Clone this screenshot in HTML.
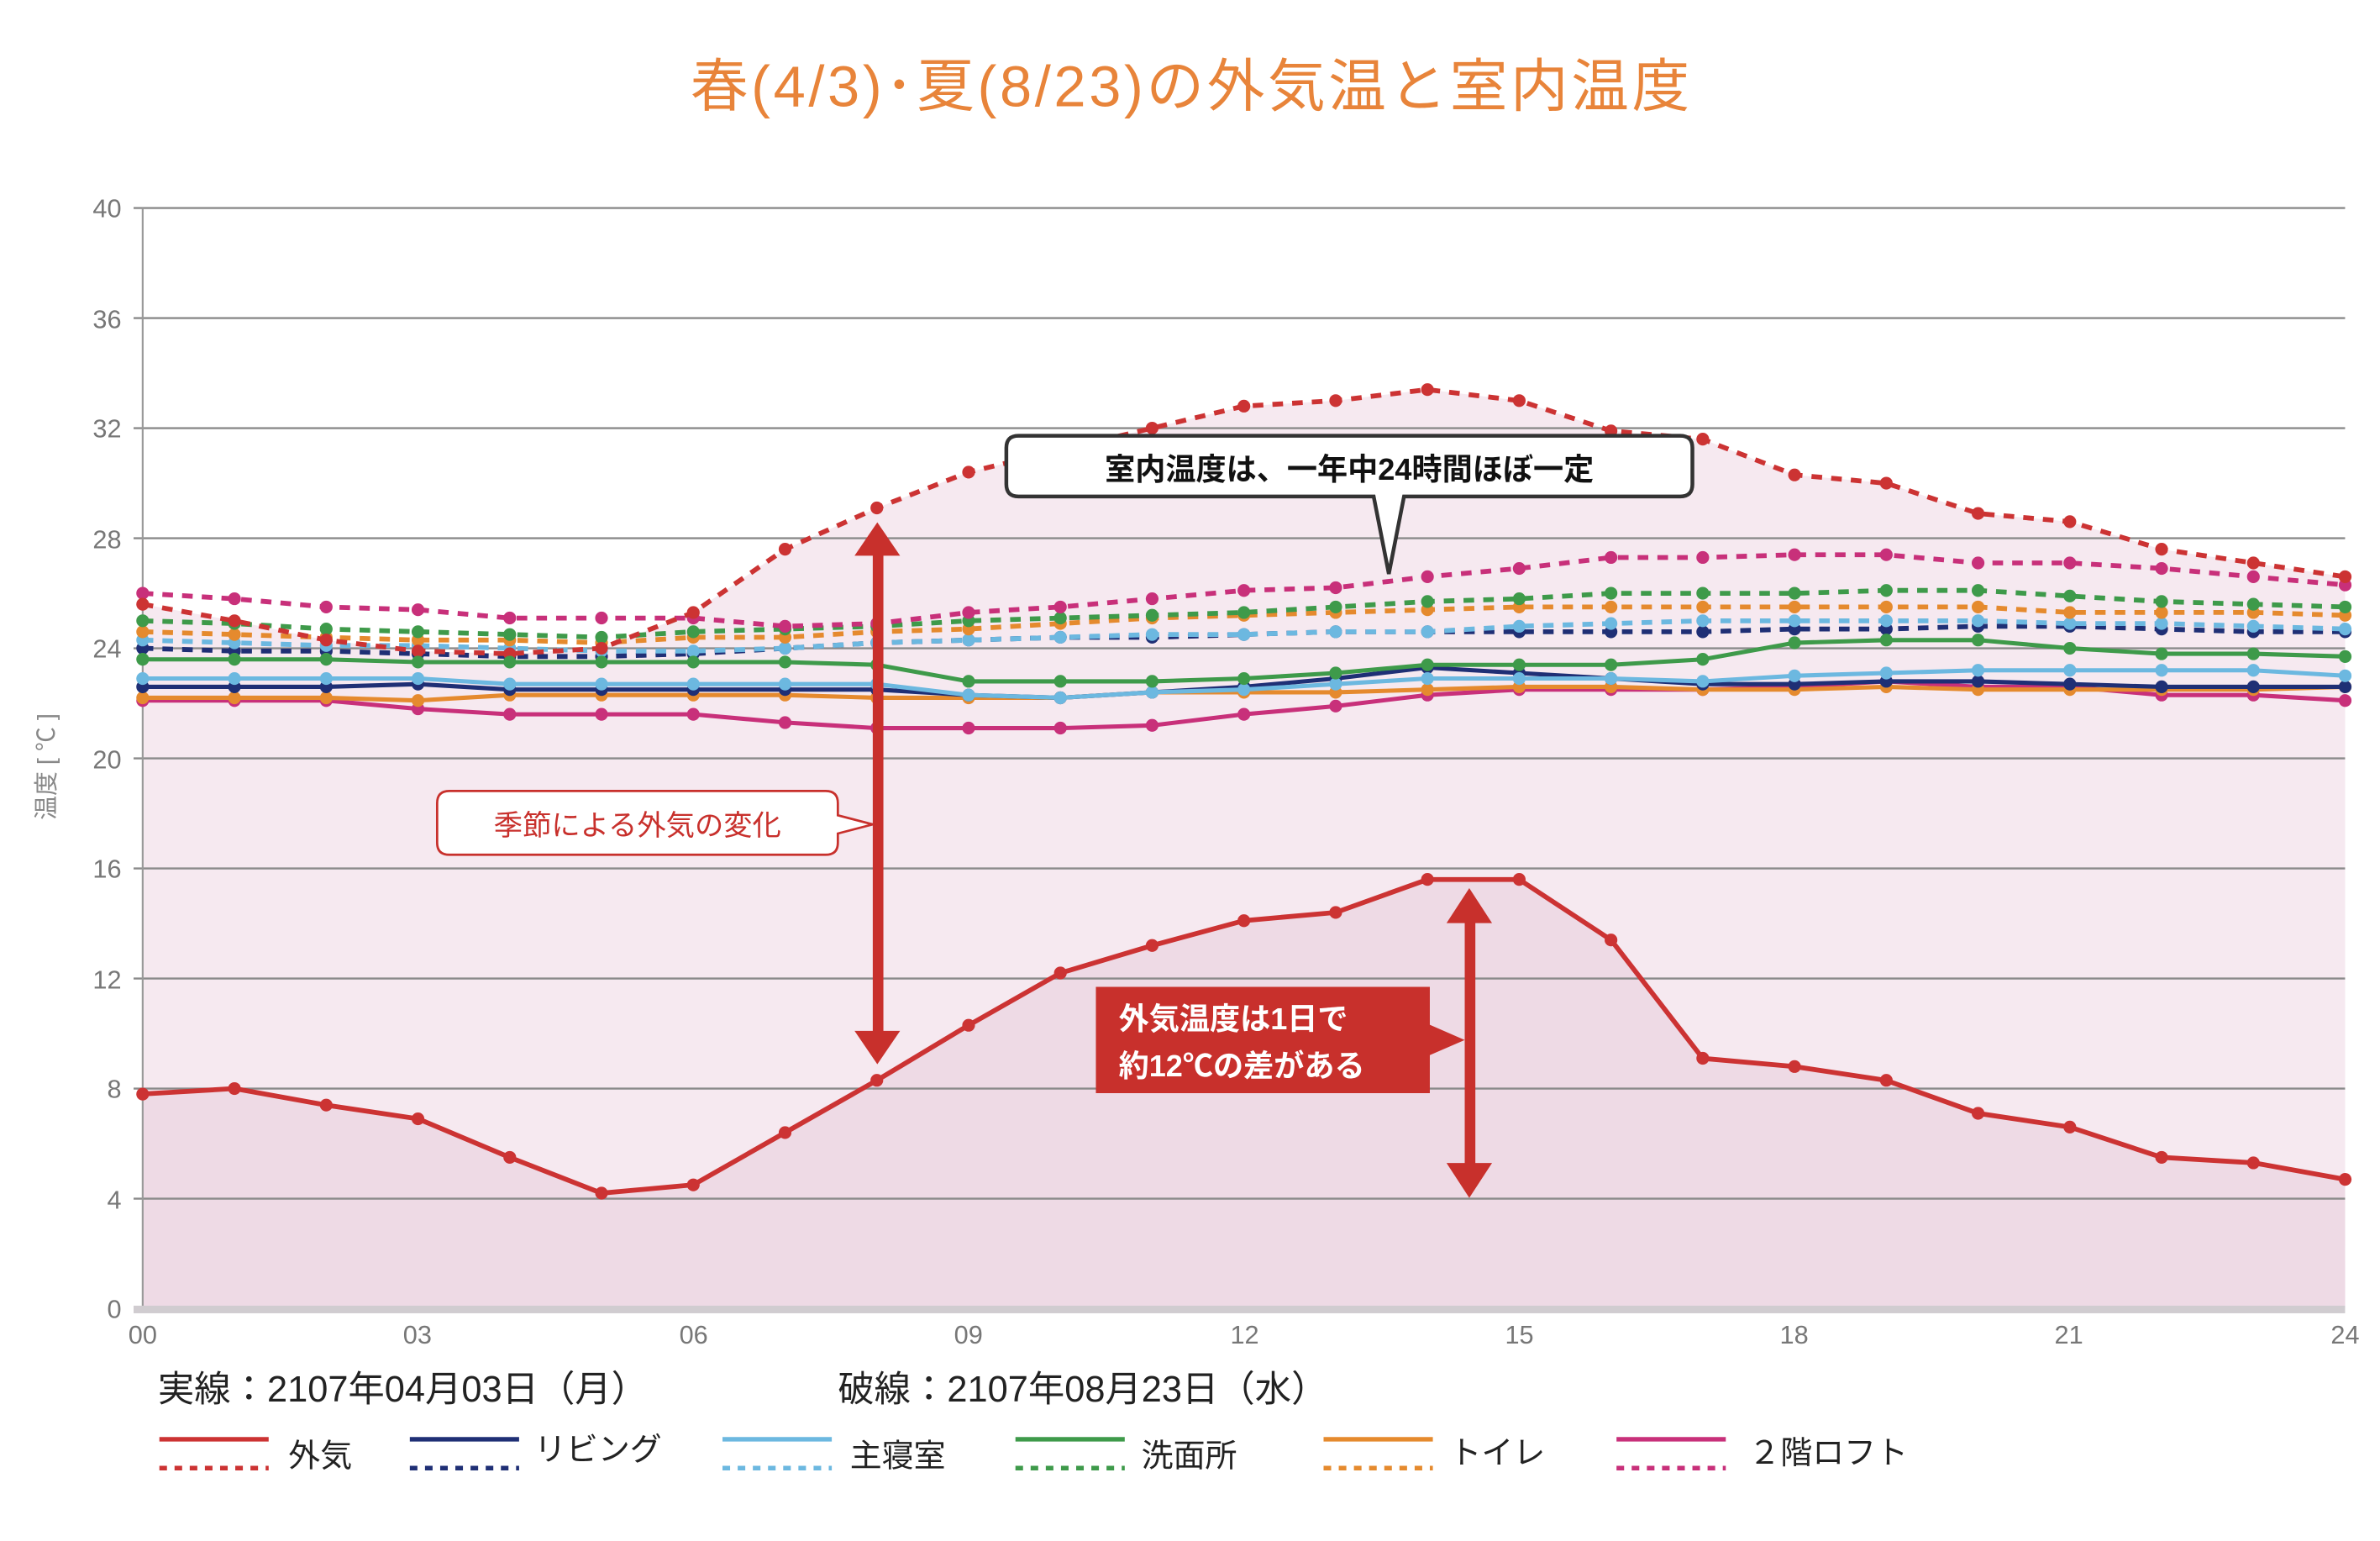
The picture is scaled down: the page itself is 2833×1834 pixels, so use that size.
<!DOCTYPE html>
<html><head><meta charset="utf-8">
<style>
html,body{margin:0;padding:0;background:#fff;}
svg{display:block;}
text{font-family:"Liberation Sans","Noto Sans CJK JP",sans-serif;}
.ax{font-family:"Liberation Serif","Noto Serif CJK SC",serif;fill:#777;font-size:17px;}
</style></head>
<body>
<svg id="c" width="2833" height="1834" viewBox="0 0 1568 1015" preserveAspectRatio="none" xmlns="http://www.w3.org/2000/svg">
<text x="785" y="70" text-anchor="middle" font-size="38" fill="#e8843a" letter-spacing="2">春(4/3)･夏(8/23)の外気温と室内温度</text>
<g id="fills"></g>
<g id="grid"></g>
<line x1="94" y1="137" x2="94" y2="862" stroke="#999" stroke-width="1.2"/>
<rect x="88" y="860" width="1457" height="5" fill="#d0ccd0"/>
<g id="series"></g>
<g class="ax" text-anchor="end">
<text x="80" y="143">40</text><text x="80" y="216">36</text><text x="80" y="288">32</text><text x="80" y="361">28</text><text x="80" y="433">24</text><text x="80" y="506">20</text><text x="80" y="578">16</text><text x="80" y="651">12</text><text x="80" y="723">8</text><text x="80" y="796">4</text><text x="80" y="868">0</text>
</g>
<g class="ax" text-anchor="middle">
<text x="94" y="885">00</text><text x="275" y="885">03</text><text x="457" y="885">06</text><text x="638" y="885">09</text><text x="820" y="885">12</text><text x="1001" y="885">15</text><text x="1182" y="885">18</text><text x="1363" y="885">21</text><text x="1545" y="885">24</text>
</g>
<text x="0" y="0" transform="translate(36,505) rotate(-90)" text-anchor="middle" font-size="16" fill="#888">温度 [ ℃ ]</text>
<g fill="#c8302c" stroke="none">
<rect x="575" y="362" width="7" height="322"/>
<polygon points="578,344 563,366 593,366"/><polygon points="578,701 563,679 593,679"/>
<rect x="965" y="604" width="7" height="166"/>
<polygon points="968,585 953,608 983,608"/><polygon points="968,789 953,766 983,766"/>
</g>
<path d="M671,287 H1107 Q1115,287 1115,295 V319 Q1115,327 1107,327 H925 L915,378 L905,327 H671 Q663,327 663,319 V295 Q663,287 671,287 Z" fill="#fff" stroke="#333" stroke-width="2.5"/>
<text x="889" y="316" text-anchor="middle" font-size="20" font-weight="bold" fill="#111">室内温度は、一年中24時間ほぼ一定</text>
<path d="M296,521 H544 Q552,521 552,529 V537 L575,543 L552,549 V555 Q552,563 544,563 H296 Q288,563 288,555 V529 Q288,521 296,521 Z" fill="#fff" stroke="#c8302c" stroke-width="1.5"/>
<text x="420" y="550" text-anchor="middle" font-size="19" fill="#c8302c">季節による外気の変化</text>
<path d="M722,650 H942 V675 L965,685 L942,695 V720 H722 Z" fill="#c8302c"/>
<text x="737" y="678" font-size="20" font-weight="bold" fill="#fff">外気温度は1日で</text>
<text x="737" y="709" font-size="20" font-weight="bold" fill="#fff">約12℃の差がある</text>
<text x="104" y="923" font-size="24" fill="#222">実線：2107年04月03日（月）</text>
<text x="552" y="923" font-size="24" fill="#222">破線：2107年08月23日（水）</text>
<g id="leg"></g>
<g font-size="21" fill="#222">
<text x="190" y="966">外気</text><text x="352" y="962">リビング</text><text x="560" y="966">主寝室</text><text x="752" y="966">洗面所</text><text x="955" y="964">トイレ</text><text x="1152" y="964">２階ロフト</text>
</g>
</svg>
<script>
const X=h=>94+h*60.46, Y=v=>862-v*18.125;
const d={
od:[25.6,25.0,24.3,23.9,23.8,24.0,25.3,27.6,29.1,30.4,31.2,32.0,32.8,33.0,33.4,33.0,31.9,31.6,30.3,30.0,28.9,28.6,27.6,27.1,26.6],
o:[7.8,8.0,7.4,6.9,5.5,4.2,4.5,6.4,8.3,10.3,12.2,13.2,14.1,14.4,15.6,15.6,13.4,9.1,8.8,8.3,7.1,6.6,5.5,5.3,4.7],
ld:[26.0,25.8,25.5,25.4,25.1,25.1,25.1,24.8,24.9,25.3,25.5,25.8,26.1,26.2,26.6,26.9,27.3,27.3,27.4,27.4,27.1,27.1,26.9,26.6,26.3],
gd:[25.0,24.9,24.7,24.6,24.5,24.4,24.6,24.7,24.8,25.0,25.1,25.2,25.3,25.5,25.7,25.8,26.0,26.0,26.0,26.1,26.1,25.9,25.7,25.6,25.5],
td:[24.6,24.5,24.4,24.3,24.3,24.2,24.4,24.4,24.6,24.7,24.9,25.1,25.2,25.3,25.4,25.5,25.5,25.5,25.5,25.5,25.5,25.3,25.3,25.3,25.2],
bd:[24.3,24.2,24.1,24.1,24.0,23.9,23.9,24.0,24.2,24.3,24.4,24.5,24.5,24.6,24.6,24.8,24.9,25.0,25.0,25.0,25.0,24.9,24.9,24.8,24.7],
nd:[24.0,23.9,23.9,23.8,23.7,23.7,23.8,24.0,24.2,24.3,24.4,24.4,24.5,24.6,24.6,24.6,24.6,24.6,24.7,24.7,24.8,24.8,24.7,24.6,24.6],
g:[23.6,23.6,23.6,23.5,23.5,23.5,23.5,23.5,23.4,22.8,22.8,22.8,22.9,23.1,23.4,23.4,23.4,23.6,24.2,24.3,24.3,24.0,23.8,23.8,23.7],
b:[22.9,22.9,22.9,22.9,22.7,22.7,22.7,22.7,22.7,22.3,22.2,22.4,22.5,22.7,22.9,22.9,22.9,22.8,23.0,23.1,23.2,23.2,23.2,23.2,23.0],
n:[22.6,22.6,22.6,22.7,22.5,22.5,22.5,22.5,22.5,22.3,22.2,22.4,22.6,22.9,23.3,23.1,22.9,22.7,22.7,22.8,22.8,22.7,22.6,22.6,22.6],
t:[22.2,22.2,22.2,22.1,22.3,22.3,22.3,22.3,22.2,22.2,22.2,22.4,22.4,22.4,22.5,22.6,22.6,22.5,22.5,22.6,22.5,22.5,22.5,22.5,22.6],
l:[22.1,22.1,22.1,21.8,21.6,21.6,21.6,21.3,21.1,21.1,21.1,21.2,21.6,21.9,22.3,22.5,22.5,22.5,22.6,22.8,22.6,22.6,22.3,22.3,22.1]};
const col={o:"#cc3333",n:"#1f2f75",b:"#6cb8e0",g:"#3e9a4a",t:"#e58a2e",l:"#c8307a"};
const pts=a=>a.map((v,i)=>X(i).toFixed(1)+","+Y(v).toFixed(1)).join(" ");
let s="";
s+=`<polygon points="${X(0)},862 ${pts(d.od)} ${X(24)},862" fill="#f6e9f0"/>`;
s+=`<polygon points="${X(0)},862 ${pts(d.o)} ${X(24)},862" fill="#eedae5"/>`;
document.getElementById("fills").innerHTML=s;
let g="";
for(let v=4;v<=40;v+=4)g+=`<line x1="88" x2="1545" y1="${Y(v)}" y2="${Y(v)}" stroke="#8a8a8a" stroke-width="1.3"/>`;
document.getElementById("grid").innerHTML=g;
let r="";
const draw=(k,c,dash,w)=>{r+=`<polyline points="${pts(d[k])}" fill="none" stroke="${c}" stroke-width="${w}" ${dash?'stroke-dasharray="7,6"':''}/>`;
d[k].forEach((v,i)=>r+=`<circle cx="${X(i)}" cy="${Y(v)}" r="4.2" fill="${c}"/>`);};
[["nd","n"],["bd","b"],["td","t"],["gd","g"],["ld","l"],["od","o"]].forEach(([k,c])=>draw(k,col[c],1,3.2));
[["l","l"],["t","t"],["n","n"],["b","b"],["g","g"],["o","o"]].forEach(([k,c])=>draw(k,col[c],0,k=="o"?3.2:2.8));
document.getElementById("series").innerHTML=r;
let L="";
[[105,"o"],[270,"n"],[476,"b"],[669,"g"],[872,"t"],[1065,"l"]].forEach(([x,c])=>{
L+=`<line x1="${x}" x2="${x+72}" y1="948" y2="948" stroke="${col[c]}" stroke-width="3"/>`;
L+=`<line x1="${x}" x2="${x+72}" y1="967" y2="967" stroke="${col[c]}" stroke-width="3" stroke-dasharray="5,5"/>`;});
document.getElementById("leg").innerHTML=L;
</script>
</body></html>
